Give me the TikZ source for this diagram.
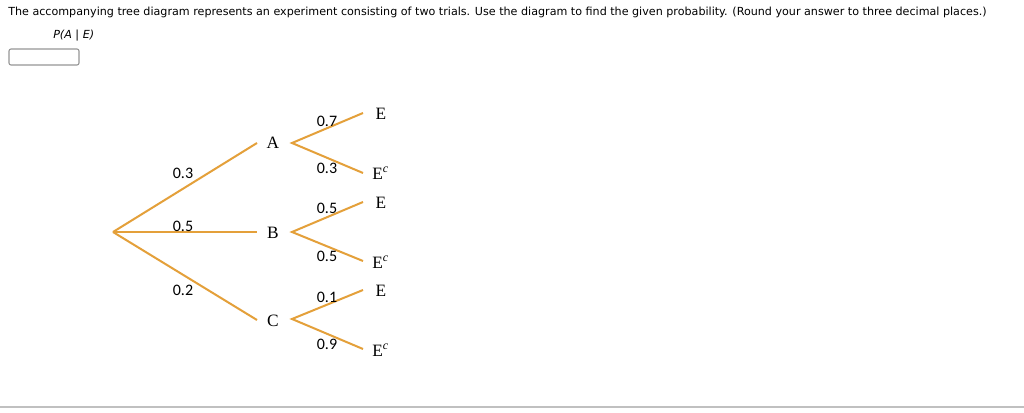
\documentclass[tikz,border=0pt]{standalone}
\usepackage{fontspec}
\setmainfont{Liberation Serif}
\newfontfamily\hdr{DejaVu Sans}
\newfontfamily\num{Carlito}
\definecolor{branch}{RGB}{228,160,58}
\definecolor{boxgray}{RGB}{150,150,150}
\definecolor{rulegray}{RGB}{192,192,192}
\begin{document}
\begin{tikzpicture}[x=0.75pt,y=-0.75pt,
  br/.style={draw=branch,line width=1.5pt},
  lvl/.style={font=\fontsize{13}{15}\selectfont,inner sep=0pt},
  prob/.style={font=\num\fontsize{12}{14}\selectfont,inner sep=0pt},
  outc/.style={font=\fontsize{13}{15}\selectfont,inner sep=0pt}]
\useasboundingbox (0,0) rectangle (1024,413);
\fill[white] (0,0) rectangle (1024,413);
% header
\node[anchor=west,inner sep=0pt,font=\hdr\fontsize{8.35}{10}\selectfont] (q) at (8,12)
  {The accompanying tree diagram represents an experiment consisting of two trials. Use the diagram to find the given probability. (Round your answer to three decimal places.)};
\node[anchor=west,inner sep=0pt,font=\hdr\itshape\fontsize{8.35}{10}\selectfont] (p) at (53,36) {P(A | E)};
\draw[boxgray,rounded corners=1.5pt,line width=0.8pt] (9,49) rectangle (79,65);
\draw[rulegray,line width=1pt] (0,407) -- (1024,407);
% tree nodes
\coordinate (root) at (113,232);
\coordinate (a1) at (257,143);
\coordinate (b1) at (257,232);
\coordinate (c1) at (257,320);
\node[lvl] (A) at (273,143) {A};
\node[lvl] (B) at (273,233) {B};
\node[lvl] (C) at (273,321) {C};
\coordinate (av) at (292,143);
\coordinate (bv) at (292,232);
\coordinate (cv) at (292,319);
\coordinate (ae) at (363,113);
\coordinate (aec) at (363,173);
\coordinate (be) at (363,202);
\coordinate (bec) at (363,261);
\coordinate (ce) at (363,290);
\coordinate (cec) at (363,349);
\node[outc] (AE) at (381,114) {E};
\node[outc,anchor=west] (AEc) at (372,173) {E\raisebox{0.9ex}{\fontsize{9}{10}\selectfont\itshape c}};
\node[outc] (BE) at (381,203) {E};
\node[outc,anchor=west] (BEc) at (372,262) {E\raisebox{0.9ex}{\fontsize{9}{10}\selectfont\itshape c}};
\node[outc] (CE) at (381,291) {E};
\node[outc,anchor=west] (CEc) at (372,350) {E\raisebox{0.9ex}{\fontsize{9}{10}\selectfont\itshape c}};
% branches
\draw[br] (root) -- (a1);
\draw[br] (root) -- (b1);
\draw[br] (root) -- (c1);
\draw[br] (ae) -- (av) -- (aec);
\draw[br] (be) -- (bv) -- (bec);
\draw[br] (ce) -- (cv) -- (cec);
% probabilities
\node[prob] (p1) at (183,173) {0.3};
\node[prob] (p2) at (183,226) {0.5};
\node[prob] (p3) at (183,290) {0.2};
\node[prob] (pa1) at (327,121) {0.7};
\node[prob] (pa2) at (327,168) {0.3};
\node[prob] (pb1) at (327,208) {0.5};
\node[prob] (pb2) at (327,256) {0.5};
\node[prob] (pc1) at (327,297) {0.1};
\node[prob] (pc2) at (327,344) {0.9};
\end{tikzpicture}
\end{document}
